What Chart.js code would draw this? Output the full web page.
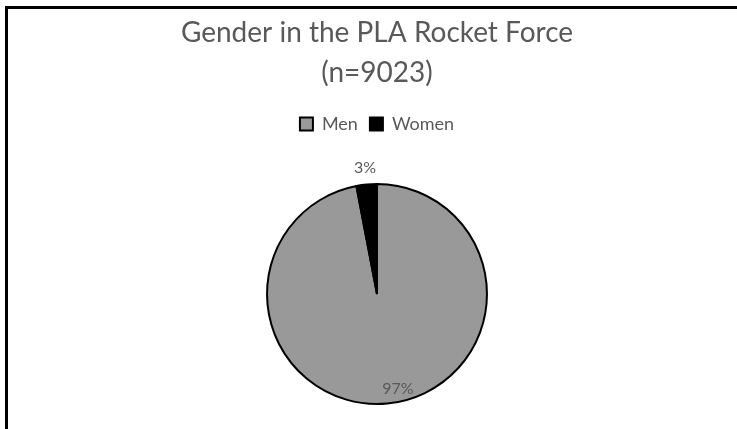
<!DOCTYPE html>
<html>
<head>
<meta charset="utf-8">
<script src="https://cdn.jsdelivr.net/npm/chart.js@4"></script>
<style>
  body { margin: 0; background: #fff; }
  #wrap { position: relative; width: 737px; height: 429px; }
  /* frame of the original chart, only top and left edges are visible */
  #frame { position: absolute; left: 5px; top: 6px; right: 0; bottom: 0;
           border-top: 3px solid #000; border-left: 3px solid #000; pointer-events: none; }
  canvas { position: absolute; left: 0; top: 0; }
</style>
</head>
<body>
<div id="wrap">
  <canvas id="pieChart" width="737" height="429"></canvas>
  <div id="frame"></div>
</div>
<script>
// data
const labels = ['Men', 'Women'];
const shares = [97, 3];
const colors = ['#999999', '#000000'];
const titleLines = ['Gender in the PLA Rocket Force', '(n=9023)'];

const textGray = '#595959';
const fontFamily = 'Lato, "Open Sans", sans-serif';

// percent labels: big slice inside, small slice outside above the pie
const pctLabels = {
  id: 'pctLabels',
  afterDatasetsDraw(chart) {
    const ctx = chart.ctx;
    const arcs = chart.getDatasetMeta(0).data;
    ctx.save();
    ctx.fillStyle = textGray;
    ctx.font = '16px ' + fontFamily;
    ctx.textAlign = 'center';
    ctx.textBaseline = 'middle';
    arcs.forEach((arc, i) => {
      const mid = (arc.startAngle + arc.endAngle) / 2;
      const inside = shares[i] > 50;
      const r = arc.outerRadius * (inside ? 0.87 : 1.15);
      // excel nudges the inside label a bit to the right
      const x = arc.x + Math.cos(mid) * r + (inside ? 12 : 0);
      const y = arc.y + Math.sin(mid) * r;
      ctx.fillText(shares[i] + '%', x, y);
    });
    ctx.restore();
  }
};

// more room between the legend and the pie
const legendGap = {
  id: 'legendGap',
  beforeInit(chart) {
    const fit = chart.legend.fit;
    chart.legend.fit = function () {
      fit.bind(chart.legend)();
      this.height += 40;
    };
  }
};

new Chart(document.getElementById('pieChart'), {
  type: 'pie',
  data: {
    labels: labels,
    datasets: [{
      data: shares,
      backgroundColor: colors,
      borderColor: '#000000',
      borderWidth: 2
    }]
  },
  options: {
    responsive: false,
    animation: false,
    layout: { padding: { left: 17, top: 13, bottom: 24 } },
    plugins: {
      title: {
        display: true,
        text: titleLines,
        color: textGray,
        font: { family: fontFamily, size: 28, weight: '400', lineHeight: 1.43 },
        padding: { top: 0, bottom: 10 }
      },
      legend: {
        position: 'top',
        labels: {
          color: textGray,
          font: { family: fontFamily, size: 18 },
          boxWidth: 13,
          boxHeight: 13,
          padding: 12
        }
      },
      tooltip: { enabled: false }
    }
  },
  plugins: [pctLabels, legendGap]
});
</script>
</body>
</html>
